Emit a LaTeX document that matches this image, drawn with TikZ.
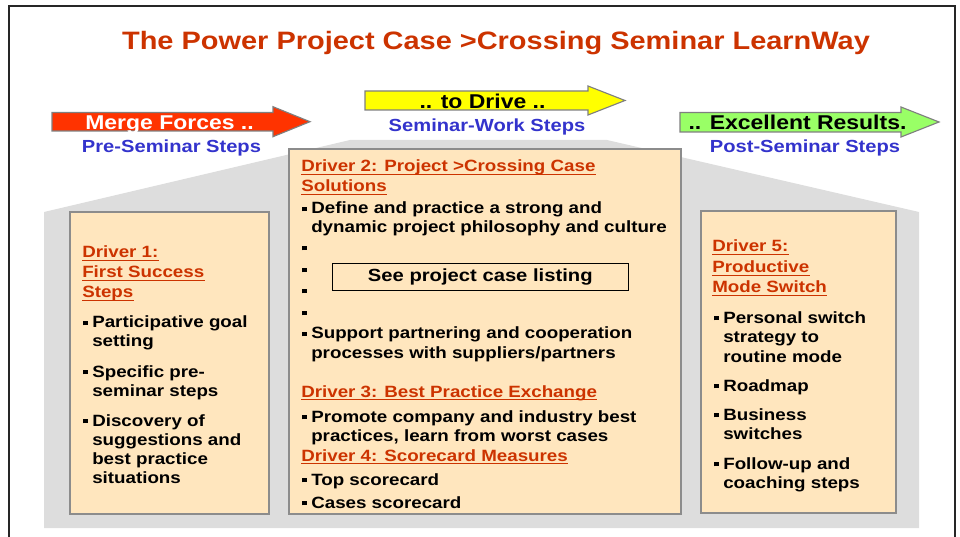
\documentclass[tikz,border=0pt]{standalone}
\usepackage{fontspec}
\setmainfont{Liberation Sans}[FakeStretch=1.15]

\definecolor{hdred}{HTML}{CC3300}
\definecolor{stepblue}{HTML}{3333CC}
\definecolor{peach}{HTML}{FFE6BE}
\definecolor{backgrey}{HTML}{DDDDDD}
\definecolor{boxline}{HTML}{8C8C8C}
\definecolor{arrowgrey}{HTML}{7F7F7F}
\definecolor{mergered}{HTML}{FF3300}
\definecolor{driveyellow}{HTML}{FFFF00}
\definecolor{resultgreen}{HTML}{99FF66}

\newcommand{\bodyfont}{\fontsize{11.6}{13.8}\selectfont\bfseries}
\newcommand{\sqb}{\makebox[6.4pt][l]{\rule[1.8pt]{3.4pt}{3.4pt}}}

\begin{document}
\begin{tikzpicture}[
    x=0.025cm, y=-0.025cm,
    drv/.style={draw=boxline, line width=1pt, fill=peach},
    arw/.style={draw=arrowgrey, line width=0.8pt},
    body/.style={anchor=base west, inner sep=0pt, font=\bodyfont},
    head/.style={body, text=hdred},
    uline/.style={draw=hdred, line width=1pt},
    sub/.style={anchor=base, inner sep=0pt, text=stepblue,
                font=\fontsize{12.45}{14}\selectfont\bfseries},
    lab/.style={anchor=base, inner sep=0pt,
                font=\fontsize{14.2}{16}\selectfont\bfseries}
]
    \useasboundingbox (0,0) rectangle (960,537);
    \draw[line width=1pt, draw=black!85] (9,537) -- (9,6) -- (955,6) -- (955,537);

    \node[anchor=base, inner sep=0pt, text=hdred,
          font=\fontsize{17.9}{20}\selectfont\bfseries] (title) at (496,49.5)
          {The Power Project Case >Crossing Seminar LearnWay};

    % three step arrows
    \draw[arw, fill=mergered] (52,112.5) -- (273,112.5) -- (273,106.7) -- (310,121.7)
        -- (273,136.7) -- (273,131) -- (52,131) -- cycle;
    \draw[arw, fill=driveyellow] (365,91) -- (588,91) -- (588,86) -- (625,100.5)
        -- (588,115) -- (588,110) -- (365,110) -- cycle;
    \draw[arw, fill=resultgreen] (680,112.5) -- (901,112.5) -- (901,107) -- (939,122)
        -- (901,137) -- (901,132) -- (680,132) -- cycle;

    \node[lab, text=white] (merge) at (169.5,130) {Merge Forces ..};
    \node[lab] (drive) at (482.5,108.5) {.. to Drive ..};
    \node[lab] (result) at (797.5,130) {.. Excellent Results.};

    \node[sub] (pre) at (171.5,153) {Pre-Seminar Steps};
    \node[sub] (work) at (487,131.7) {Seminar-Work Steps};
    \node[sub] (post) at (805,153) {Post-Seminar Steps};

    % grey backdrop and driver boxes
    \fill[backgrey] (44,528) -- (44,212) -- (350,140) -- (607,140) -- (919,212)
        -- (919,528) -- cycle;
    \draw[drv] (70,212) rectangle (269,514);
    \draw[drv] (289,149) rectangle (681,514);
    \draw[drv] (701,211) rectangle (896,513);

    % driver 1
    \foreach \yy/\tx [count=\i] in {258/Driver 1:, 278/First Success, 298/Steps}{
        \node[head] (dAh\i) at (82,\yy) {\tx};
        \draw[uline] ([yshift=-1.6pt]dAh\i.base west) -- ([yshift=-1.6pt]dAh\i.base east);
    }
    \foreach \yy/\tx [count=\i] in {328/Participative goal, 377/Specific pre-,
                                    426/Discovery of}
        \node[body] (dAb\i) at (83,\yy) {\sqb\tx};
    \foreach \yy/\tx [count=\i] in {347/setting, 396/seminar steps, 445/suggestions and,
                                    464/best practice, 483/situations}
        \node[body] (dAc\i) at (92,\yy) {\tx};

    % drivers 2 to 4
    \foreach \yy/\tx [count=\i] in {172/Driver 2: Project >Crossing Case, 192/Solutions,
                                    397/Driver 3: Best Practice Exchange,
                                    461/Driver 4: Scorecard Measures}{
        \node[head] (dBh\i) at (301,\yy) {\tx};
        \draw[uline] ([yshift=-1.6pt]dBh\i.base west) -- ([yshift=-1.6pt]dBh\i.base east);
    }
    \foreach \yy/\tx [count=\i] in {214/Define and practice a strong and, 253/, 275/, 296/,
                                    318/, 339/Support partnering and cooperation,
                                    422/Promote company and industry best,
                                    485/Top scorecard, 508/Cases scorecard}
        \node[body] (dBb\i) at (302,\yy) {\sqb\tx};
    \foreach \yy/\tx [count=\i] in {233/dynamic project philosophy and culture,
                                    358/{processes with suppliers/partners},
                                    441/{practices, learn from worst cases}}
        \node[body] (dBc\i) at (311,\yy) {\tx};
    \node[draw=black, line width=0.9pt, minimum width=7.4cm, minimum height=0.685cm,
          inner sep=0pt, font=\fontsize{12.5}{14}\selectfont\bfseries] (listing)
          at (480.3,277) {See project case listing};

    % driver 5
    \foreach \yy/\tx [count=\i] in {252/Driver 5:, 273/Productive, 293/Mode Switch}{
        \node[head] (dCh\i) at (712,\yy) {\tx};
        \draw[uline] ([yshift=-1.6pt]dCh\i.base west) -- ([yshift=-1.6pt]dCh\i.base east);
    }
    \foreach \yy/\tx [count=\i] in {323/Personal switch, 391/Roadmap, 420/Business,
                                    469/Follow-up and}
        \node[body] (dCb\i) at (714,\yy) {\sqb\tx};
    \foreach \yy/\tx [count=\i] in {342/strategy to, 362/routine mode, 439/switches,
                                    488/coaching steps}
        \node[body] (dCc\i) at (723,\yy) {\tx};
\end{tikzpicture}
\end{document}
